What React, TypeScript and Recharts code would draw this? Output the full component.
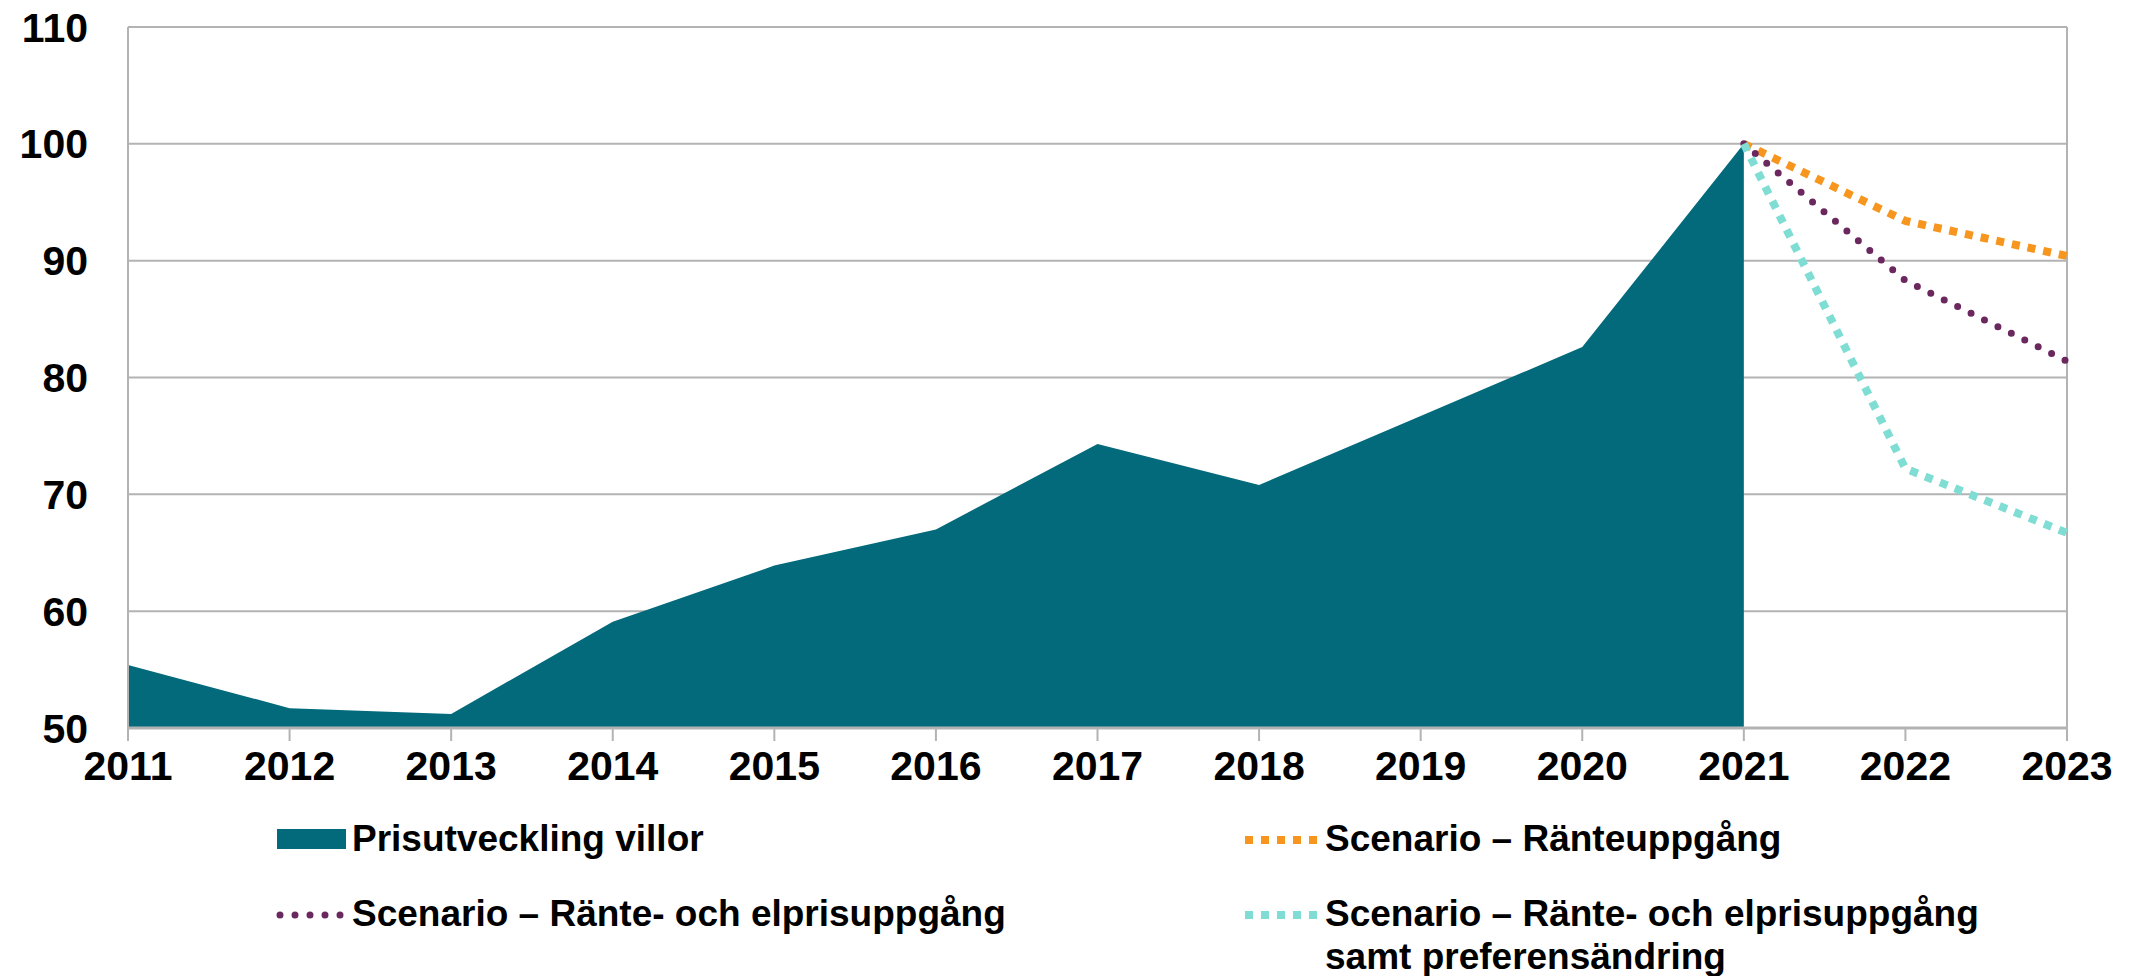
import { ComposedChart, Area, Line, XAxis, YAxis, CartesianGrid, ReferenceLine } from "recharts";

const years = [2011, 2012, 2013, 2014, 2015, 2016, 2017, 2018, 2019, 2020, 2021, 2022, 2023];
const villor = [55.4, 51.7, 51.2, 59.1, 63.9, 67.0, 74.3, 70.8, 76.7, 82.6, 100, null, null];
const ranteuppgang = [null, null, null, null, null, null, null, null, null, null, 100, 93.4, 90.4];
const ranteElpris = [null, null, null, null, null, null, null, null, null, null, 100, 88.3, 81.4];
const preferens = [null, null, null, null, null, null, null, null, null, null, 100, 72.2, 66.7];
const yTicks = [50, 60, 70, 80, 90, 100, 110];

const labels = {
  villor: "Prisutveckling villor",
  ranta: "Scenario – Ränteuppgång",
  ranteEl: "Scenario – Ränte- och elprisuppgång",
  pref: ["Scenario – Ränte- och elprisuppgång", "samt preferensändring"],
};

const data = years.map((year, i) => ({
  year,
  villor: villor[i],
  ranta: ranteuppgang[i],
  ranteEl: ranteElpris[i],
  pref: preferens[i],
}));

const FONT = '"Liberation Sans", Arial, sans-serif';
const GRID = "#b3b3b3";
const TEAL = "#026a7b";
const ORANGE = "#f7961f";
const PURPLE = "#6b285f";
const MINT = "#7fddd3";

const textStyle: React.CSSProperties = {
  position: "absolute",
  fontFamily: FONT,
  fontWeight: 700,
  fontSize: 37,
  lineHeight: "43px",
  color: "#000",
  whiteSpace: "nowrap",
};

function Legend() {
  return (
    <>
      <svg style={{ position: "absolute", left: 0, top: 0 }} width={2133} height={976} pointerEvents="none">
        <rect x={277} y={829} width={69} height={20} fill={TEAL} />
        <line x1={1245} x2={1319} y1={840} y2={840} stroke={ORANGE} strokeWidth={8} strokeDasharray="8 8" />
        <line x1={280} x2={345} y1={915} y2={915} stroke={PURPLE} strokeWidth={7} strokeLinecap="round" strokeDasharray="0 15" />
        <line x1={1245} x2={1319} y1={915} y2={915} stroke={MINT} strokeWidth={8} strokeDasharray="8 8" />
      </svg>
      <div style={{ ...textStyle, left: 352, top: 817 }}>{labels.villor}</div>
      <div style={{ ...textStyle, left: 1325, top: 817 }}>{labels.ranta}</div>
      <div style={{ ...textStyle, left: 352, top: 892 }}>{labels.ranteEl}</div>
      <div style={{ ...textStyle, left: 1325, top: 892 }}>
        {labels.pref[0]}
        <br />
        {labels.pref[1]}
      </div>
    </>
  );
}

export default function App() {
  const tick = { fontFamily: FONT, fontWeight: 700, fontSize: 41, fill: "#000" };
  return (
    <div style={{ position: "absolute", left: 0, top: 0, width: 2133, height: 976, background: "#fff", overflow: "hidden" }}>
      <ComposedChart width={2133} height={976} data={data} margin={{ top: 27, right: 66, bottom: 188, left: 0 }}>
        <CartesianGrid vertical={false} stroke={GRID} strokeWidth={2} />
        <XAxis
          dataKey="year"
          type="number"
          domain={[2011, 2023]}
          ticks={years}
          interval={0}
          height={60}
          tick={tick}
          tickSize={13}
          tickMargin={10}
          stroke={GRID}
          axisLine={{ stroke: GRID, strokeWidth: 3 }}
          tickLine={{ stroke: GRID, strokeWidth: 2 }}
        />
        <YAxis
          domain={[50, 110]}
          ticks={yTicks}
          width={128}
          tick={tick}
          tickSize={0}
          tickMargin={40}
          tickLine={false}
          axisLine={{ stroke: GRID, strokeWidth: 2 }}
        />
        <ReferenceLine x={2023} stroke={GRID} strokeWidth={2} />
        <Area dataKey="villor" type="linear" fill={TEAL} fillOpacity={1} stroke="none" isAnimationActive={false} />
        <Line dataKey="ranta" type="linear" stroke={ORANGE} strokeWidth={8} strokeDasharray="8 8" dot={false} isAnimationActive={false} />
        <Line dataKey="ranteEl" type="linear" stroke={PURPLE} strokeWidth={7} strokeLinecap="round" strokeDasharray="0 15" dot={false} isAnimationActive={false} />
        <Line dataKey="pref" type="linear" stroke={MINT} strokeWidth={8} strokeDasharray="8 8" dot={false} isAnimationActive={false} />
      </ComposedChart>
      <Legend />
    </div>
  );
}
